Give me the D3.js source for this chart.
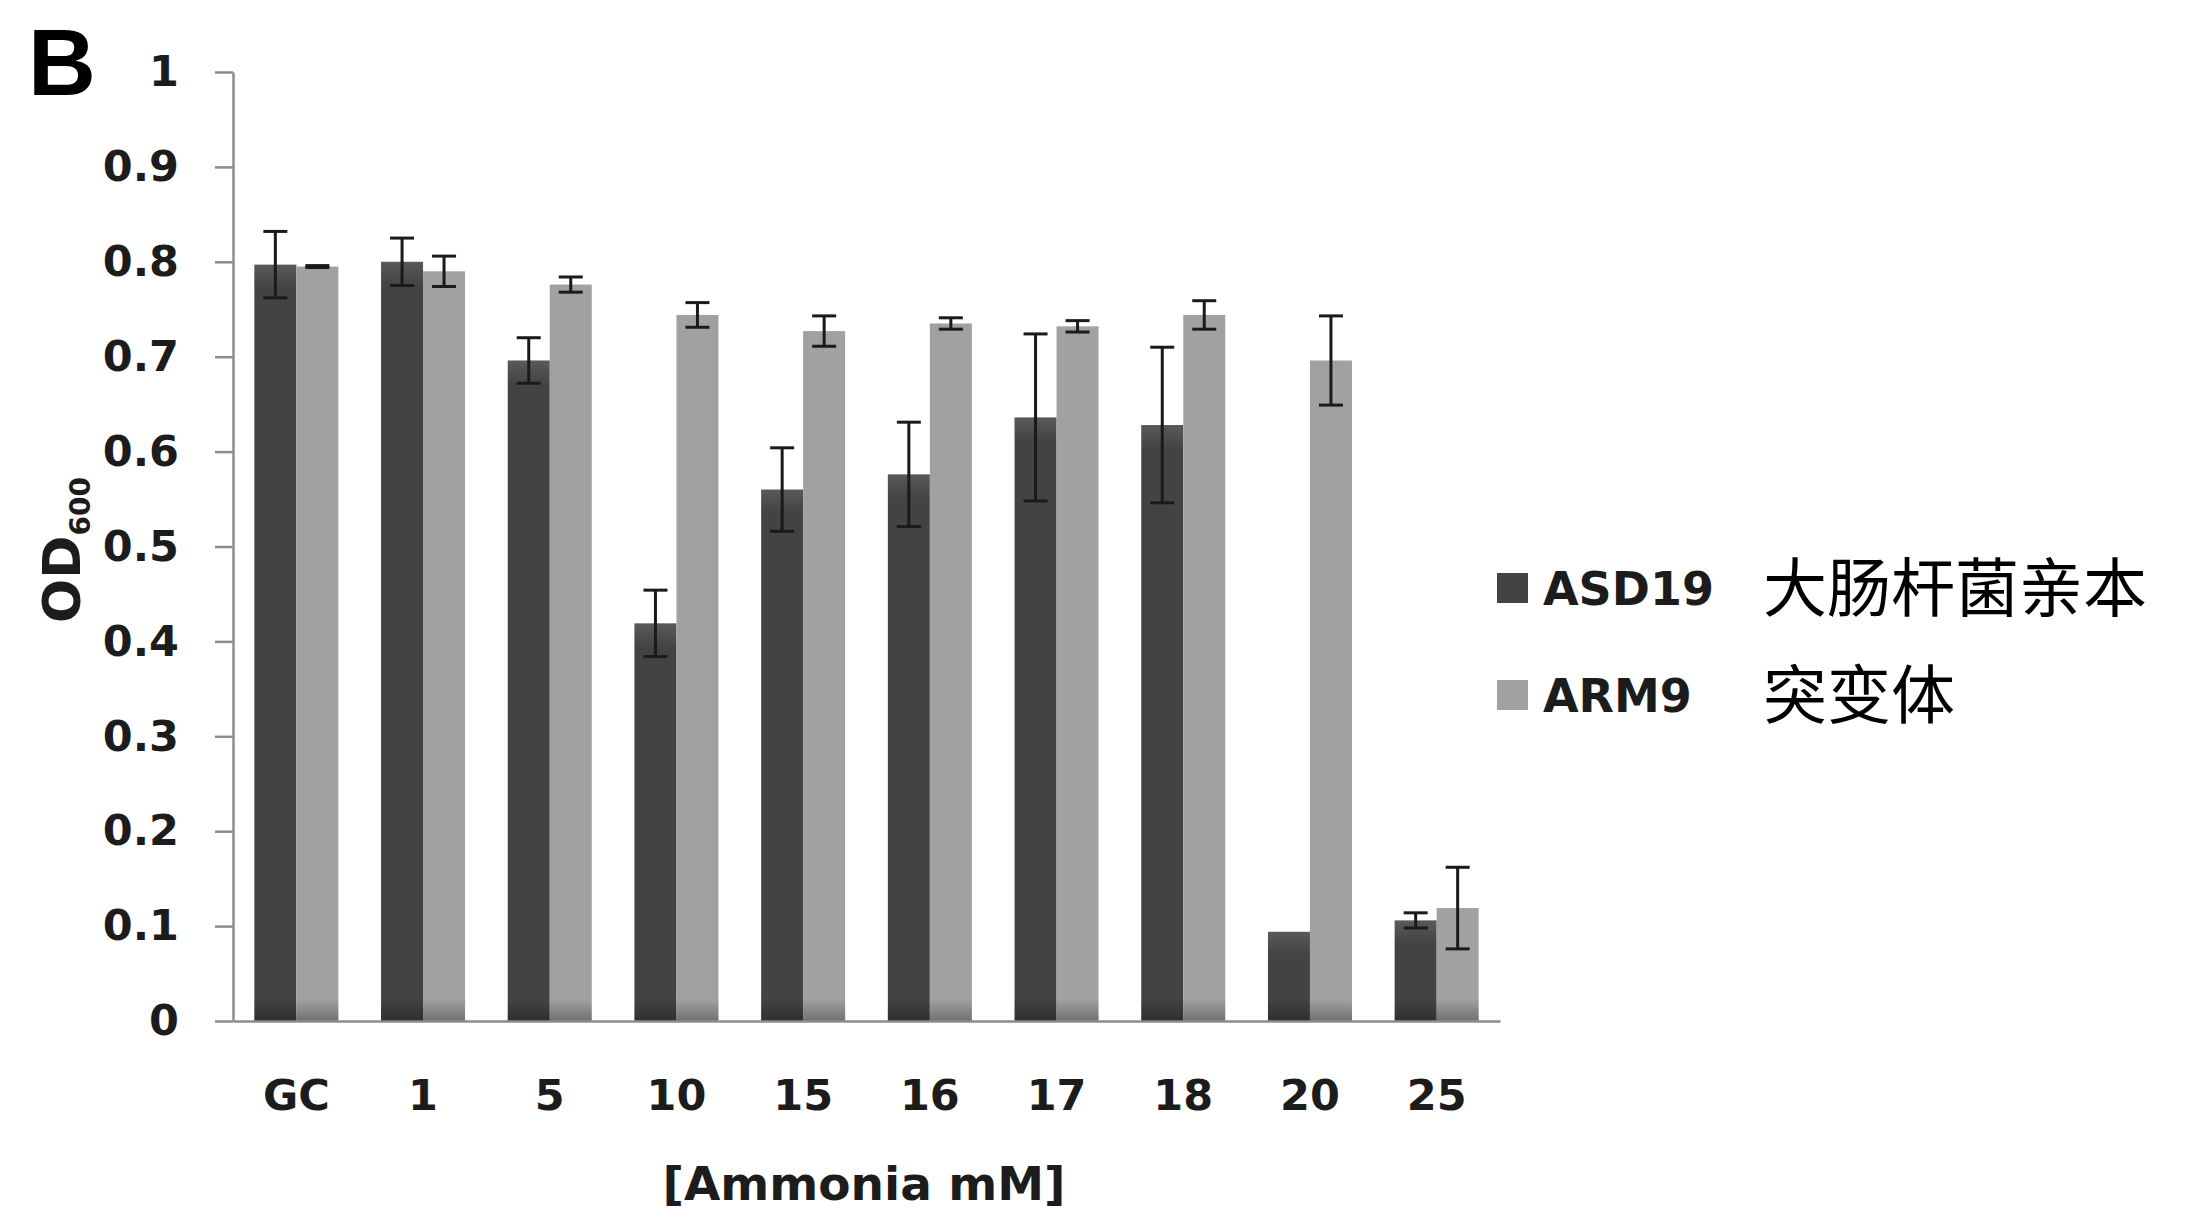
<!DOCTYPE html>
<html>
<head>
<meta charset="utf-8">
<script src="https://cdn.jsdelivr.net/npm/d3@7"></script>
<style>
  body { margin: 0; background: #fff; }
  svg { display: block; }
</style>
</head>
<body>
<div id="chart"></div>
<script>
// data
var categories = ["GC", "1", "5", "10", "15", "16", "17", "18", "20", "25"];
var seriesNames = ["ASD19", "ARM9"];
var seriesNotes = ["大肠杆菌亲本", "突变体"];
var asd19 = [0.797, 0.800, 0.696, 0.419, 0.560, 0.576, 0.636, 0.628, 0.094, 0.106];
var asd19Err = [0.035, 0.025, 0.024, 0.035, 0.044, 0.055, 0.088, 0.082, 0, 0.008];
var arm9 = [0.795, 0.790, 0.776, 0.744, 0.727, 0.735, 0.732, 0.744, 0.696, 0.119];
var arm9Err = [0.001, 0.016, 0.008, 0.013, 0.016, 0.006, 0.006, 0.015, 0.047, 0.043];
var yTicks = [0, 0.1, 0.2, 0.3, 0.4, 0.5, 0.6, 0.7, 0.8, 0.9, 1];

var width = 2190, height = 1217;
var colors = ["#434343", "#a1a1a1"];
var axisColor = "#8c8c8c";
var font = "'DejaVu Sans', Verdana, sans-serif";

var svg = d3.select("#chart").append("svg")
  .attr("width", width)
  .attr("height", height);

// scales
var y = d3.scaleLinear().domain([0, 1]).range([1021, 72]);
var x = d3.scaleBand().domain(categories).range([233, 1500])
  .paddingInner(0.337).paddingOuter(0.1685);
var xs = d3.scaleBand().domain(seriesNames).range([0, x.bandwidth()]);

// gradients for the shaded bar ends
var defs = svg.append("defs");
var baseShade = defs.append("linearGradient").attr("id", "baseShade")
  .attr("x1", 0).attr("y1", 0).attr("x2", 0).attr("y2", 1);
baseShade.append("stop").attr("offset", "0%").attr("stop-color", "#000").attr("stop-opacity", 0);
baseShade.append("stop").attr("offset", "100%").attr("stop-color", "#000").attr("stop-opacity", 0.3);
var topShade = defs.append("linearGradient").attr("id", "topShade")
  .attr("x1", 0).attr("y1", 0).attr("x2", 0).attr("y2", 1);
topShade.append("stop").attr("offset", "0%").attr("stop-color", "#fff").attr("stop-opacity", 0.12);
topShade.append("stop").attr("offset", "100%").attr("stop-color", "#fff").attr("stop-opacity", 0);

// build rows
var rows = categories.map(function(c, i) {
  return [
    {cat: c, s: "ASD19", v: asd19[i], e: asd19Err[i], color: colors[0]},
    {cat: c, s: "ARM9", v: arm9[i], e: arm9Err[i], color: colors[1]}
  ];
});
var bars = [].concat.apply([], rows);

// y axis
var yAxis = svg.append("g")
  .attr("transform", "translate(233,0)")
  .call(d3.axisLeft(y).tickValues(yTicks).tickSize(18).tickSizeOuter(0).tickPadding(36)
    .tickFormat(function(d) { return String(+d.toFixed(1)); }));
yAxis.select(".domain").attr("stroke", axisColor).attr("stroke-width", 2.5);
yAxis.selectAll(".tick line").attr("stroke", axisColor).attr("stroke-width", 2.5);
yAxis.selectAll(".tick text")
  .attr("fill", "#1c1c1c")
  .style("font-family", font)
  .style("font-weight", "bold")
  .style("font-size", "43px");

// bars
var barG = svg.append("g");
barG.selectAll("rect.bar")
  .data(bars)
  .enter()
  .append("rect")
    .attr("class", "bar")
    .attr("x", function(d) { return x(d.cat) + xs(d.s); })
    .attr("y", function(d) { return y(d.v); })
    .attr("width", xs.bandwidth())
    .attr("height", function(d) { return y(0) - y(d.v); })
    .attr("fill", function(d) { return d.color; });

// darker base strip
barG.selectAll("rect.base")
  .data(bars)
  .enter()
  .append("rect")
    .attr("x", function(d) { return x(d.cat) + xs(d.s); })
    .attr("y", y(0) - 22)
    .attr("width", xs.bandwidth())
    .attr("height", 22)
    .attr("fill", "url(#baseShade)");

// lighter top of dark bars
barG.selectAll("rect.top")
  .data(bars.filter(function(d) { return d.s == "ASD19"; }))
  .enter()
  .append("rect")
    .attr("x", function(d) { return x(d.cat) + xs(d.s); })
    .attr("y", function(d) { return y(d.v); })
    .attr("width", xs.bandwidth())
    .attr("height", function(d) { return Math.min(24, y(0) - y(d.v)); })
    .attr("fill", "url(#topShade)");

// x axis
var xAxis = svg.append("g")
  .attr("transform", "translate(0," + y(0) + ")")
  .call(d3.axisBottom(x).tickSize(0).tickPadding(58));
xAxis.select(".domain").attr("stroke", axisColor).attr("stroke-width", 2.5);
xAxis.selectAll(".tick text")
  .attr("fill", "#1c1c1c")
  .style("font-family", font)
  .style("font-weight", "bold")
  .style("font-size", "43px");

// error bars
var errG = svg.append("g")
  .attr("stroke", "#1a1a1a")
  .attr("stroke-width", 3)
  .attr("fill", "none");
var withErr = bars.filter(function(d) { return d.e > 0; });
var cx = function(d) { return x(d.cat) + xs(d.s) + xs.bandwidth() / 2; };
errG.selectAll("line.stem")
  .data(withErr)
  .enter()
  .append("line")
    .attr("x1", cx).attr("x2", cx)
    .attr("y1", function(d) { return y(d.v + d.e); })
    .attr("y2", function(d) { return y(d.v - d.e); });
errG.selectAll("line.capTop")
  .data(withErr)
  .enter()
  .append("line")
    .attr("x1", function(d) { return cx(d) - 12; })
    .attr("x2", function(d) { return cx(d) + 12; })
    .attr("y1", function(d) { return y(d.v + d.e); })
    .attr("y2", function(d) { return y(d.v + d.e); });
errG.selectAll("line.capBottom")
  .data(withErr)
  .enter()
  .append("line")
    .attr("x1", function(d) { return cx(d) - 12; })
    .attr("x2", function(d) { return cx(d) + 12; })
    .attr("y1", function(d) { return y(d.v - d.e); })
    .attr("y2", function(d) { return y(d.v - d.e); });

// axis titles
svg.append("text")
  .attr("x", 864)
  .attr("y", 1200)
  .attr("text-anchor", "middle")
  .attr("fill", "#1c1c1c")
  .style("font-family", font)
  .style("font-weight", "bold")
  .style("font-size", "47px")
  .text("[Ammonia mM]");

var yTitle = svg.append("text")
  .attr("transform", "translate(80,550) rotate(-90)")
  .attr("text-anchor", "middle")
  .attr("fill", "#1c1c1c")
  .style("font-family", font)
  .style("font-weight", "bold")
  .style("font-size", "52px");
yTitle.append("tspan").text("OD");
yTitle.append("tspan").attr("dy", 10).style("font-size", "28px").text("600");

// panel letter
svg.append("text")
  .attr("x", 28)
  .attr("y", 95)
  .attr("fill", "#000")
  .style("font-family", "'Liberation Sans', Arial, sans-serif")
  .style("font-weight", "bold")
  .style("font-size", "94px")
  .text("B");

// legend
var legend = svg.append("g");
var legendY = [588, 695];
seriesNames.forEach(function(s, i) {
  legend.append("rect")
    .attr("x", 1497)
    .attr("y", legendY[i] - 15)
    .attr("width", 31)
    .attr("height", 30)
    .attr("fill", colors[i]);
  legend.append("text")
    .attr("x", 1543)
    .attr("y", legendY[i] + 17)
    .attr("fill", "#1c1c1c")
    .style("font-family", font)
    .style("font-weight", "bold")
    .style("font-size", "46px")
    .text(s);
  legend.append("text")
    .attr("x", 1763)
    .attr("y", legendY[i] + 23)
    .attr("fill", "#000")
    .style("font-family", "'Noto Sans CJK SC', sans-serif")
    .style("font-size", "64px")
    .text(seriesNotes[i]);
});
</script>
</body>
</html>
